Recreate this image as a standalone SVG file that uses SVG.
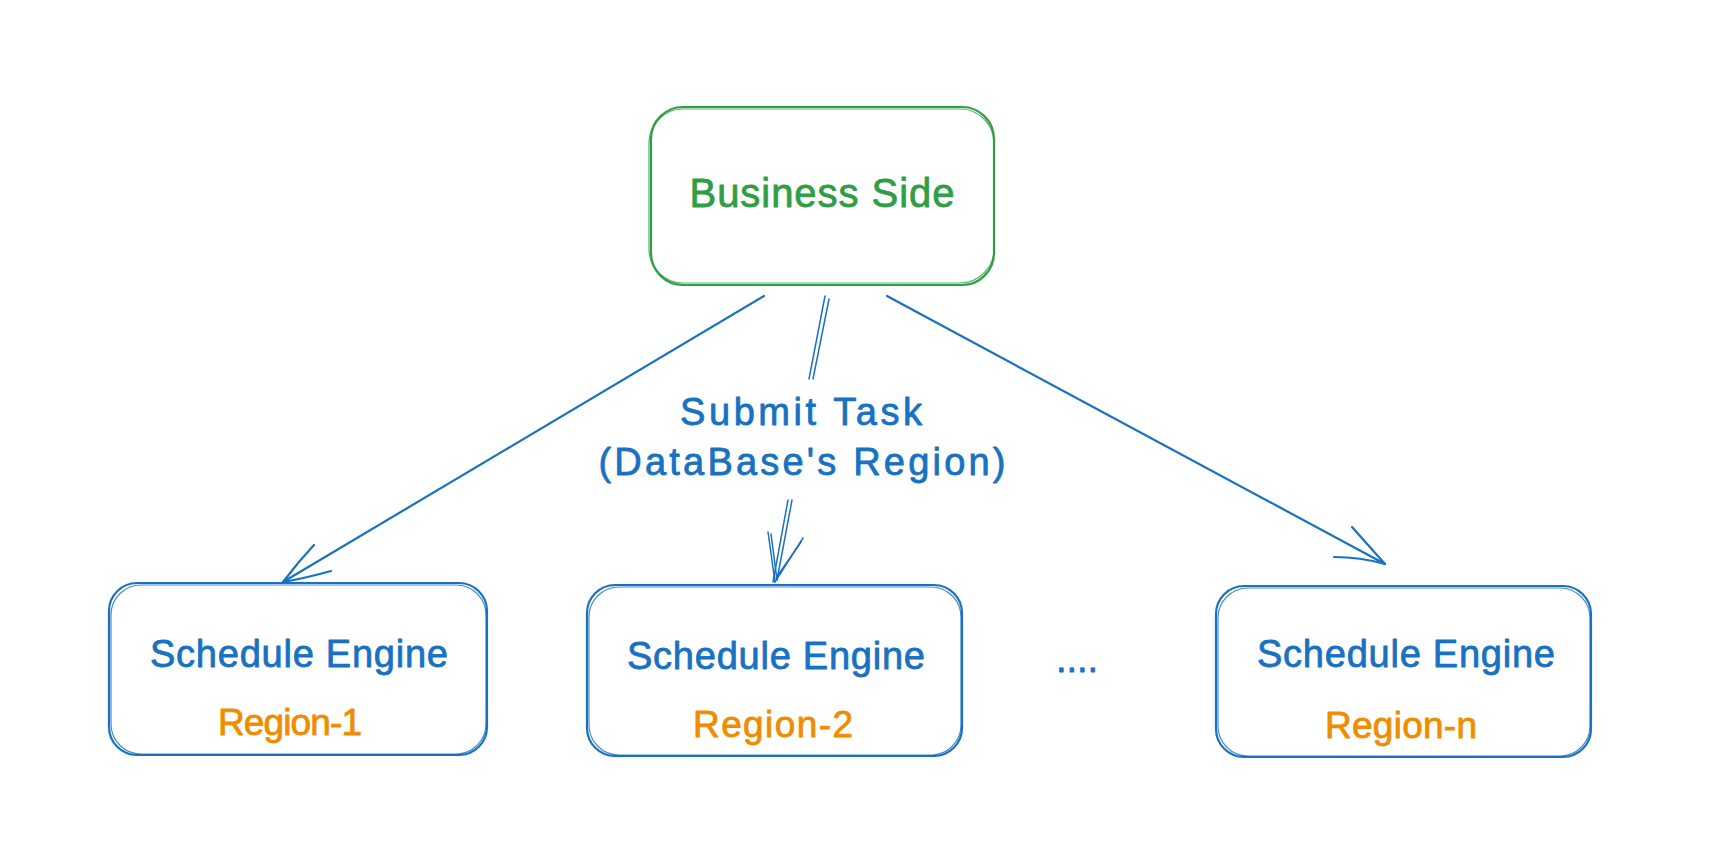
<svg xmlns="http://www.w3.org/2000/svg" width="1718" height="844" viewBox="0 0 1718 844">
<style>
  .bg{fill:#ffffff}
  .boxb{fill:none;stroke:#1971c2;stroke-width:2.2;stroke-linejoin:round}
  .boxb2{fill:none;stroke:#1971c2;stroke-width:1.2;stroke-opacity:0.8}
  .boxg{fill:none;stroke:#2f9e44;stroke-width:2.2}
  .boxg2{fill:none;stroke:#2f9e44;stroke-width:1.2;stroke-opacity:0.8}
  .t{font-family:"Liberation Sans","Open Sans",sans-serif;text-anchor:middle;stroke-width:0.8;stroke-linejoin:round}
  .blue{fill:#1971c2;stroke:#1971c2}
  .green{fill:#2f9e44;stroke:#2f9e44}
  .orange{fill:#f08c00;stroke:#f08c00}
  .ln{fill:none;stroke:#1971c2;stroke-width:2.2;stroke-linecap:round;stroke-linejoin:round}
  .ln2{fill:none;stroke:#1971c2;stroke-width:1.5;stroke-linecap:round}
</style>
<rect class="bg" x="0" y="0" width="1718" height="844"/>

<g id="business-side">
  <rect class="boxg" x="651" y="107" width="343" height="178" rx="32"/>
  <rect class="boxg2" x="649" y="109" width="345" height="174" rx="34"/>
  <text class="t green" x="822" y="207" font-size="40" textLength="265">Business Side</text>
</g>

<g id="engine-1">
  <rect class="boxb" x="109" y="583" width="378" height="172" rx="28"/>
  <rect class="boxb2" x="111" y="585" width="375" height="169" rx="30"/>
  <text class="t blue" x="299" y="667" font-size="38" textLength="298">Schedule Engine</text>
  <text class="t orange" x="290" y="735" font-size="37" textLength="144">Region-1</text>
</g>

<g id="engine-2">
  <rect class="boxb" x="587" y="585" width="375" height="171" rx="28"/>
  <rect class="boxb2" x="589" y="587" width="372" height="168" rx="30"/>
  <text class="t blue" x="776" y="669" font-size="38" textLength="298">Schedule Engine</text>
  <text class="t orange" x="773" y="737" font-size="37" textLength="160">Region-2</text>
</g>

<g id="ellipsis">
  <text class="t blue" x="1077" y="672" font-size="38" stroke-width="1.5">....</text>
</g>

<g id="engine-n">
  <rect class="boxb" x="1216" y="586" width="375" height="171" rx="28"/>
  <rect class="boxb2" x="1218" y="588" width="372" height="168" rx="30"/>
  <text class="t blue" x="1406" y="667" font-size="38" textLength="298">Schedule Engine</text>
  <text class="t orange" x="1401" y="738" font-size="37" textLength="152">Region-n</text>
</g>

<g id="connectors">
  <!-- left arrow -->
  <path class="ln" d="M764 296 L283 582"/>
  <path class="ln" d="M283 582 Q298 562 314 545"/>
  <path class="ln" d="M283 582 Q306 578 331 571"/>
  <!-- middle arrow (label splits line) -->
  <path class="ln2" d="M825 296 L809 379"/>
  <path class="ln2" d="M829 299 L813 379"/>
  <path class="ln2" d="M788 500 L773 582"/>
  <path class="ln2" d="M792 500 L777 580"/>
  <path class="ln2" d="M775 582 L768 532"/>
  <path class="ln2" d="M777 580 L771 534"/>
  <path class="ln2" d="M775 582 L803 538"/>
  <path class="ln2" d="M776 578 L801 542"/>
  <text class="t blue" x="801" y="425" font-size="38" textLength="242">Submit Task</text>
  <text class="t blue" x="802" y="475" font-size="38" textLength="407">(DataBase's Region)</text>
  <!-- right arrow -->
  <path class="ln" d="M887 296 L1385 564"/>
  <path class="ln" d="M1385 564 Q1368 545 1352 527"/>
  <path class="ln" d="M1385 564 Q1360 557 1334 557"/>
</g>
</svg>
